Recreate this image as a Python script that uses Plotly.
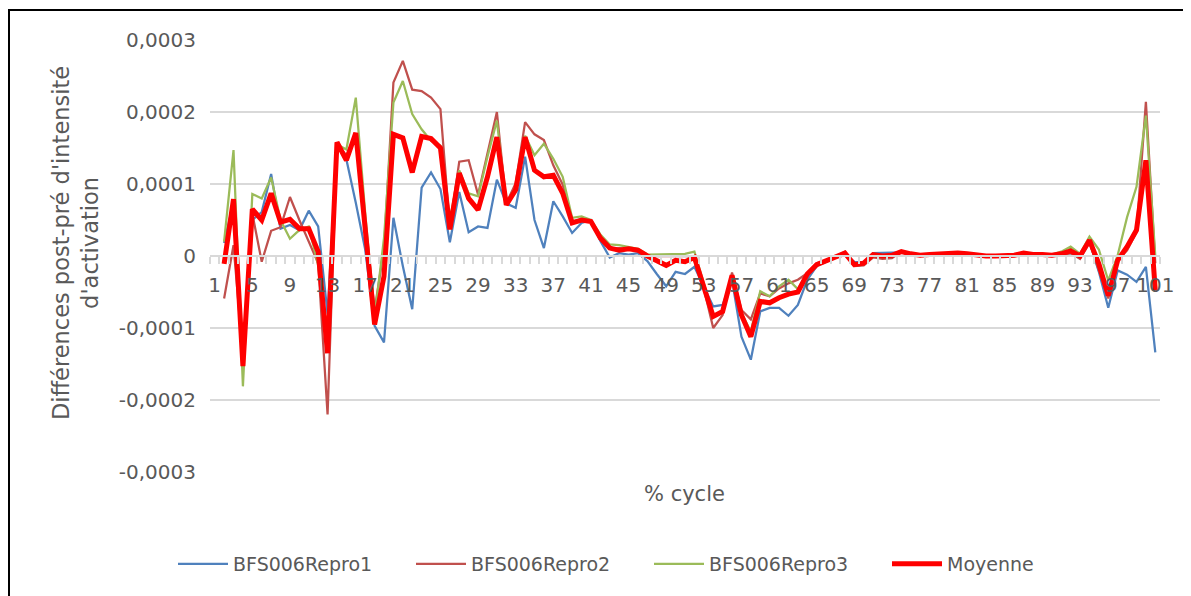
import plotly.graph_objects as go

# % cycle categories 1..101 (category 1 has no value)
categories = list(range(1, 102))
tick_labels = [str(v) for v in range(1, 102, 4)]

# values, in units of 1e-5
repro1 = [None,
    1.8, 7.5, -13.9, 5.0, 6.1, 11.4, 3.8, 4.3, 3.6, 6.3,
    4.1, -8.0, 15.5, 13.4, 7.4, 0.9, -9.7, -12.0, 5.3, -1.4,
    -7.4, 9.5, 11.6, 9.3, 1.9, 8.9, 3.3, 4.1, 3.9, 10.6,
    7.3, 6.7, 13.8, 5.0, 1.1, 7.6, 5.5, 3.2, 4.6, 5.0,
    2.1, -0.2, 0.4, 0.2, 0.4, -0.7, -2.5, -4.2, -2.2, -2.5,
    -1.5, -4.2, -7.0, -6.8, -3.3, -11.2, -14.4, -7.7, -7.2, -7.2,
    -8.3, -6.8, -3.3, -1.4, -0.8, -0.3, 0.3, -0.8, -0.9, 0.4,
    0.4, 0.4, 0.5, 0.2, 0.1, 0.2, 0.3, 0.2, 0.4, 0.3,
    0.1, 0.0, 0.0, 0.0, 0.1, 0.3, 0.2, 0.2, 0.2, 0.3,
    0.4, 0.0, 2.0, -2.2, -7.2, -2.0, -2.6, -3.6, -1.5, -13.4]

repro2 = [None,
    -5.9, 1.5, -13.9, 5.9, -0.8, 3.5, 4.0, 8.2, 5.0, 2.0,
    -1.0, -22.0, 15.5, 14.0, 17.0, 5.0, -7.5, 1.0, 24.1, 27.1,
    23.1, 22.9, 22.0, 20.4, 4.0, 13.1, 13.3, 8.5, 14.2, 20.0,
    7.3, 10.1, 18.6, 16.9, 16.1, 12.6, 9.9, 4.8, 5.1, 4.8,
    2.3, 1.0, 1.1, 1.0, 0.9, 0.0, 0.0, -0.1, -0.1, 0.0,
    -0.2, -4.5, -10.0, -8.2, -2.3, -7.5, -8.8, -5.2, -5.6, -4.5,
    -3.8, -3.3, -2.4, -1.0, -0.6, -0.2, 0.4, -1.4, -1.3, -0.2,
    -0.4, -0.3, 0.6, 0.3, 0.0, 0.2, 0.3, 0.2, 0.4, 0.3,
    0.0, -0.1, 0.0, 0.0, 0.1, 0.4, 0.1, 0.1, 0.0, 0.1,
    0.4, -0.4, 1.9, -2.0, -5.9, -0.6, 0.8, 3.3, 21.4, -1.0]

repro3 = [None,
    2.0, 14.7, -18.1, 8.6, 8.0, 10.9, 5.0, 2.4, 3.6, 4.1,
    -1.3, -10.5, 15.5, 14.8, 22.0, 6.0, -8.5, 2.5, 21.3, 24.3,
    19.7, 17.6, 16.0, 15.3, 5.0, 11.9, 8.7, 8.3, 13.8, 18.8,
    7.3, 8.9, 16.7, 14.0, 15.6, 13.5, 11.0, 5.3, 5.5, 5.0,
    3.0, 1.6, 1.5, 1.3, 1.0, 0.2, 0.2, 0.2, 0.3, 0.3,
    0.6, -3.8, -8.2, -7.9, -3.3, -7.9, -10.5, -4.9, -5.6, -4.2,
    -3.3, -4.6, -2.4, -1.1, -0.6, -0.1, 0.6, -1.3, -0.9, 0.3,
    0.0, 0.1, 0.7, 0.3, 0.1, 0.2, 0.3, 0.3, 0.4, 0.3,
    0.1, 0.0, 0.0, 0.0, 0.1, 0.4, 0.2, 0.2, 0.2, 0.6,
    1.3, 0.3, 2.7, 0.9, -3.4, 0.1, 5.4, 9.6, 19.5, 0.0]

moyenne = [None,
    -1.1, 7.9, -15.3, 6.5, 5.0, 8.7, 4.7, 5.1, 3.8, 3.8,
    0.6, -13.5, 15.8, 13.3, 17.1, 4.2, -9.5, -2.8, 16.9, 16.4,
    11.6, 16.6, 16.3, 15.0, 3.7, 11.5, 8.0, 6.4, 11.0, 16.5,
    7.1, 9.2, 16.5, 11.9, 11.0, 11.2, 8.7, 4.6, 5.0, 4.8,
    2.5, 1.1, 0.8, 1.0, 0.8, 0.0, -0.6, -1.3, -0.6, -0.8,
    -0.2, -4.2, -8.4, -7.7, -2.7, -8.2, -11.2, -6.3, -6.5, -5.8,
    -5.3, -5.0, -2.5, -1.2, -0.7, -0.2, 0.4, -1.2, -1.0, 0.2,
    0.0, 0.1, 0.6, 0.3, 0.1, 0.2, 0.3, 0.3, 0.4, 0.3,
    0.1, 0.0, 0.0, 0.0, 0.1, 0.4, 0.2, 0.2, 0.1, 0.3,
    0.7, 0.0, 2.2, -1.1, -5.5, -0.6, 1.3, 3.6, 13.3, -4.8]

UNIT = 1e-5
series_names = ["BFS006Repro1", "BFS006Repro2", "BFS006Repro3", "Moyenne"]
y_ticks = [0.0003, 0.0002, 0.0001, 0, -0.0001, -0.0002, -0.0003]
y_tick_text = ["0,0003", "0,0002", "0,0001", "0", "-0,0001", "-0,0002", "-0,0003"]

def scaled(vals):
    return [None if v is None else v * UNIT for v in vals]

# page offset (body margin) between screen and figure coordinates
OFF = 8
W, H = 1183, 588
# plot area in screen coords: x 210..1160, y 40..472
L, T = 210 - OFF, 40 - OFF
R = W - (1160 - OFF)
B = H - (472 - OFF)
PW, PH = W - L - R, H - T - B

def px(sx):
    return (sx - OFF - L) / PW

def py(sy):
    return (H - B - (sy - OFF)) / PH

fig = go.Figure()
styles = [("#4F81BD", 2.25), ("#C0504D", 2.25), ("#9BBB59", 2.25), ("#FF0000", 5)]
for name, vals, (col, w) in zip(series_names, [repro1, repro2, repro3, moyenne], styles):
    fig.add_trace(go.Scatter(x=categories, y=scaled(vals), mode="lines", name=name,
                             line=dict(color=col, width=w), connectgaps=False))

font_fam = "DejaVu Sans"
grey = "#595959"

fig.update_layout(
    width=W, height=H,
    margin=dict(l=L, r=R, t=T, b=B, pad=0),
    paper_bgcolor="white", plot_bgcolor="white",
    font=dict(family=font_fam, color=grey, size=20),
    showlegend=True,
    legend=dict(orientation="h", x=px(173), y=py(564), xanchor="left", yanchor="middle",
                font=dict(size=19, color=grey, family=font_fam),
                itemwidth=50,
                entrywidth=173, entrywidthmode="pixels", traceorder="normal",
                bgcolor="rgba(0,0,0,0)"),
    xaxis=dict(range=[0.5, 101.5], anchor="free", position=0.5,
               tickmode="array", tickvals=list(range(1, 102, 4)), ticktext=tick_labels,
               ticks="", ticklabelstandoff=11,
               showline=True, linecolor="#D9D9D9", linewidth=1.5,
               showgrid=False, zeroline=False,
               tickfont=dict(size=20, color=grey),
               minor=dict(tickmode="array", tickvals=[k + 0.5 for k in range(0, 102)],
                          ticks="outside", ticklen=7, tickcolor="#D9D9D9", tickwidth=1.5,
                          showgrid=False)),
    yaxis=dict(range=[-0.0003, 0.0003], tickmode="array", tickvals=y_ticks, ticktext=y_tick_text,
               showgrid=True, gridcolor="#D9D9D9", gridwidth=1.5, zeroline=False,
               showline=False, ticks="", ticklabelstandoff=13,
               tickfont=dict(size=20, color=grey)),
)

fig.add_annotation(text="Différences post-pré d'intensité<br>d'activation", textangle=-90,
                   xref="paper", yref="paper", x=px(75), y=py(243), showarrow=False,
                   font=dict(size=22.5, color=grey), xanchor="center", yanchor="middle")
fig.add_annotation(text="% cycle", xref="paper", yref="paper", x=px(684), y=py(494),
                   showarrow=False, font=dict(size=21, color=grey),
                   xanchor="center", yanchor="middle")

# outer chart border
fig.add_shape(type="rect", xref="paper", yref="paper",
              x0=px(9), x1=px(1184), y0=py(610), y1=py(10),
              line=dict(color="black", width=2), fillcolor="rgba(0,0,0,0)", layer="below")

fig.write_html("out.html")
